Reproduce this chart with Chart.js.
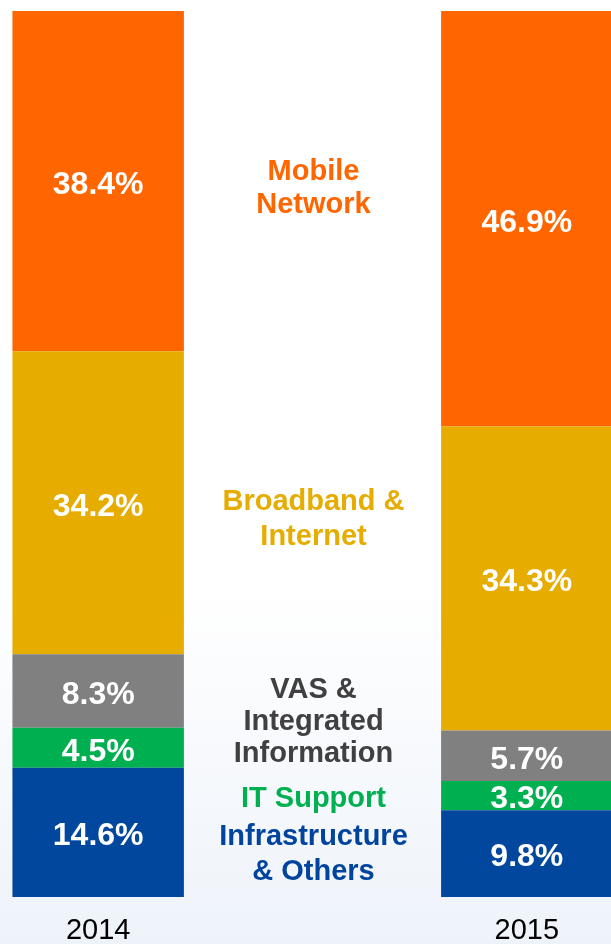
<!DOCTYPE html>
<html>
<head>
<meta charset="utf-8">
<script src="https://cdn.jsdelivr.net/npm/chart.js@4/dist/chart.umd.min.js"></script>
<style>
  html, body { margin: 0; padding: 0; overflow: hidden; }
  body {
    width: 611px; height: 944px;
    background: linear-gradient(to bottom, #ffffff 0%, #ffffff 62%, #eef3fa 100%);
  }
  #wrap { position: absolute; left: -9px; top: 0; width: 643px; height: 944px; }
</style>
</head>
<body>
<div id="wrap"><canvas id="chart"></canvas></div>
<script>
// years (middle slot left empty for the labels)
const years = ['2014', '', '2015'];

// shares per segment, in %
const infraVals = [14.6, null, 9.8];
const itVals = [4.5, null, 3.3];
const vasVals = [8.3, null, 5.7];
const broadbandVals = [34.2, null, 34.3];
const mobileVals = [38.4, null, 46.9];

// segment names shown in the middle
const infraName = ['Infrastructure', '& Others'];
const itName = ['IT Support'];
const vasName = ['VAS &', 'Integrated', 'Information'];
const broadbandName = ['Broadband &', 'Internet'];
const mobileName = ['Mobile', 'Network'];

const FONT = '"Liberation Sans", Arial, sans-serif';

// ecrit les pourcentages au centre de chaque segment
const valueLabels = {
  id: 'valueLabels',
  afterDatasetsDraw(chart) {
    const ctx = chart.ctx;
    ctx.save();
    ctx.fillStyle = '#ffffff';
    ctx.font = 'bold 32px ' + FONT;
    ctx.textAlign = 'center';
    ctx.textBaseline = 'middle';
    chart.data.datasets.forEach((ds, i) => {
      chart.getDatasetMeta(i).data.forEach((bar, j) => {
        const v = ds.data[j];
        if (v == null) return;
        ctx.fillText(v.toFixed(1) + '%', bar.x, (bar.y + bar.base) / 2 + 4);
      });
    });
    ctx.restore();
  }
};

// noms des segments dans la colonne du milieu
const middleNames = {
  id: 'middleNames',
  afterDatasetsDraw(chart) {
    const ctx = chart.ctx;
    const x = chart.scales.x.getPixelForValue(1) + 1;
    const y = chart.scales.y;
    const items = [
      { lines: mobileName, color: '#ff6600', at: 80.2, lh: 33 },
      { lines: broadbandName, color: '#e6ac00', at: 42.9, lh: 35 },
      { lines: vasName, color: '#404040', at: 20.0, lh: 32 },
      { lines: itName, color: '#00b050', at: 11.3, lh: 32 },
      { lines: infraName, color: '#00449e', at: 5.1, lh: 35 }
    ];
    ctx.save();
    ctx.font = 'bold 29px ' + FONT;
    ctx.textAlign = 'center';
    ctx.textBaseline = 'middle';
    items.forEach(it => {
      const cy = y.getPixelForValue(it.at) + 2.5;
      const top = cy - (it.lines.length - 1) * it.lh / 2;
      ctx.fillStyle = it.color;
      it.lines.forEach((line, k) => ctx.fillText(line, x, top + k * it.lh));
    });
    ctx.restore();
  }
};

const config = {
  type: 'bar',
  data: {
    labels: years,
    datasets: [
      { label: 'Infrastructure & Others', data: infraVals, backgroundColor: '#00479d' },
      { label: 'IT Support', data: itVals, backgroundColor: '#00b050' },
      { label: 'VAS & Integrated Information', data: vasVals, backgroundColor: '#808080' },
      { label: 'Broadband & Internet', data: broadbandVals, backgroundColor: '#e6ac00' },
      { label: 'Mobile Network', data: mobileVals, backgroundColor: '#ff6600' }
    ]
  },
  options: {
    responsive: true,
    maintainAspectRatio: false,
    animation: false,
    datasets: { bar: { barPercentage: 0.8, categoryPercentage: 1.0 } },
    layout: { padding: { top: 11, left: 0, right: 0, bottom: 0 } },
    plugins: { legend: { display: false }, tooltip: { enabled: false } },
    scales: {
      x: {
        stacked: true,
        grid: { display: false, drawTicks: false },
        border: { display: false },
        ticks: { color: '#000000', font: { family: FONT, size: 29 }, padding: 17, maxRotation: 0 },
        afterFit(scale) { scale.height = 47; }
      },
      y: {
        stacked: true,
        display: false,
        min: 0,
        max: 100
      }
    }
  },
  plugins: [valueLabels, middleNames]
};

new Chart(document.getElementById('chart').getContext('2d'), config);
</script>
</body>
</html>
